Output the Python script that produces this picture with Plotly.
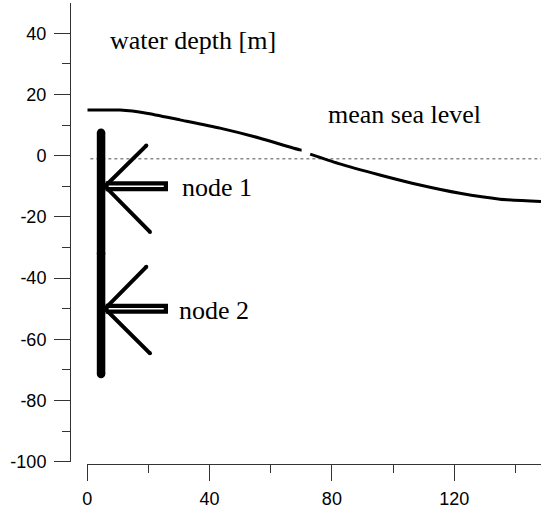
import plotly.graph_objects as go

# --- data ---
wave1_x = [0.0, 10.7, 19.4, 30.3, 43.4, 56.5, 69.6, 70.1]
wave1_y = [14.9, 14.9, 13.9, 11.7, 9.0, 5.7, 1.9, 1.9]
wave2_x = [72.9, 82.0, 95.7, 108.8, 121.9, 135.0, 148.4]
wave2_y = [0.5, -2.5, -6.3, -9.6, -12.3, -14.2, -15.0]

msl_x = [1.0, 148.4]
msl_y = [-1.0, -1.0]

pile_x = [4.5, 4.5, 4.5]
pile_y = [7.5, -32.0, -71.3]

node_y = [-10.0, -50.0]
node_names = ["node 1", "node 2"]
tip_x = 5.8
head_upper = [(19.3, 13.3), (19.3, 13.7)]   # (x, dy from node)
head_lower = [(20.5, -14.9), (20.5, -14.6)]
shaft_x = [6.0, 26.4]
shaft_inner_x = [7.0, 25.0]

ytick_vals = [-100, -80, -60, -40, -20, 0, 20, 40]
ytick_text = ["-100", "-80", "-60", "-40", "-20", "0", "20", "40"]
xtick_vals = [0, 40, 80, 120]
xtick_text = ["0", "40", "80", "120"]

fig = go.Figure()

# mean sea level
fig.add_trace(go.Scatter(x=msl_x, y=msl_y, mode="lines",
                         line=dict(color="#8a8a8a", width=1.3, dash="dot"),
                         hoverinfo="skip"))
# wave surface
for wx, wy in [(wave1_x, wave1_y), (wave2_x, wave2_y)]:
    fig.add_trace(go.Scatter(x=wx, y=wy, mode="lines",
                             line=dict(color="black", width=3, shape="spline", smoothing=0.6),
                             hoverinfo="skip"))
# pile
fig.add_trace(go.Scatter(x=pile_x, y=pile_y, mode="lines+markers",
                         line=dict(color="black", width=8.5),
                         marker=dict(color="black", size=8.5, line=dict(width=0)),
                         hoverinfo="skip"))
# arrows
for i, ny in enumerate(node_y):
    ux, udy = head_upper[i]
    lx, ldy = head_lower[i]
    fig.add_trace(go.Scatter(x=[ux, tip_x, lx], y=[ny + udy, ny, ny + ldy],
                             mode="lines+markers",
                             line=dict(color="black", width=4),
                             marker=dict(color="black", size=4, line=dict(width=0)),
                             hoverinfo="skip"))
    fig.add_trace(go.Scatter(x=shaft_x, y=[ny, ny], mode="lines",
                             line=dict(color="black", width=10),
                             hoverinfo="skip"))
    fig.add_trace(go.Scatter(x=shaft_inner_x, y=[ny, ny], mode="lines",
                             line=dict(color="white", width=1.5),
                             hoverinfo="skip"))

serif = dict(family="Liberation Serif, Times New Roman, serif", size=26, color="black")
annotations = [
    dict(x=34.5, y=37.5, text="water depth [m]", xanchor="center", yanchor="middle"),
    dict(x=103.9, y=13.5, text="mean sea level", xanchor="center", yanchor="middle"),
    dict(x=30.2, y=-10.5, text=node_names[0], xanchor="left", yanchor="middle"),
    dict(x=29.5, y=-50.5, text=node_names[1], xanchor="left", yanchor="middle"),
]
for a in annotations:
    a.update(xref="x", yref="y", showarrow=False, font=serif)

W, H = 541, 512
ml, mr, mt, mb = 70, 0, 3, 48
pw, ph = W - ml - mr, H - mt - mb

axis_font = dict(family="Liberation Sans, Arial, sans-serif", size=18, color="black")

fig.update_layout(
    width=W, height=H,
    margin=dict(l=ml, r=mr, t=mt, b=mb, pad=0, autoexpand=False),
    paper_bgcolor="white", plot_bgcolor="white",
    showlegend=False,
    annotations=annotations,
    xaxis=dict(
        domain=[(87.3 - ml) / pw, 1], range=[0, 148.4],
        anchor="free", position=0, automargin=False,
        showgrid=False, zeroline=False,
        showline=True, linecolor="#333333", linewidth=1,
        ticks="outside", ticklen=16, tickcolor="#333333", tickwidth=1,
        tickvals=xtick_vals, ticktext=xtick_text, tickfont=axis_font,
        ticklabelstandoff=2,
        minor=dict(ticks="outside", ticklen=8, dtick=20, tick0=0,
                   tickcolor="#333333", tickwidth=1, showgrid=False),
    ),
    yaxis=dict(
        domain=[(464 - 461.7) / ph, 1], range=[-100, 49.9],
        anchor="free", position=0, automargin=False,
        showgrid=False, zeroline=False,
        showline=True, linecolor="#333333", linewidth=1,
        ticks="outside", ticklen=16, tickcolor="#333333", tickwidth=1,
        tickvals=ytick_vals, ticktext=ytick_text, tickfont=axis_font,
        ticklabelstandoff=4,
        minor=dict(ticks="outside", ticklen=8, dtick=10, tick0=0,
                   tickcolor="#333333", tickwidth=1, showgrid=False),
    ),
)

fig.write_html("out.html",
               config={"displayModeBar": False, "staticPlot": True},
               post_script="document.body.style.margin='0';document.body.style.overflow='hidden';")
